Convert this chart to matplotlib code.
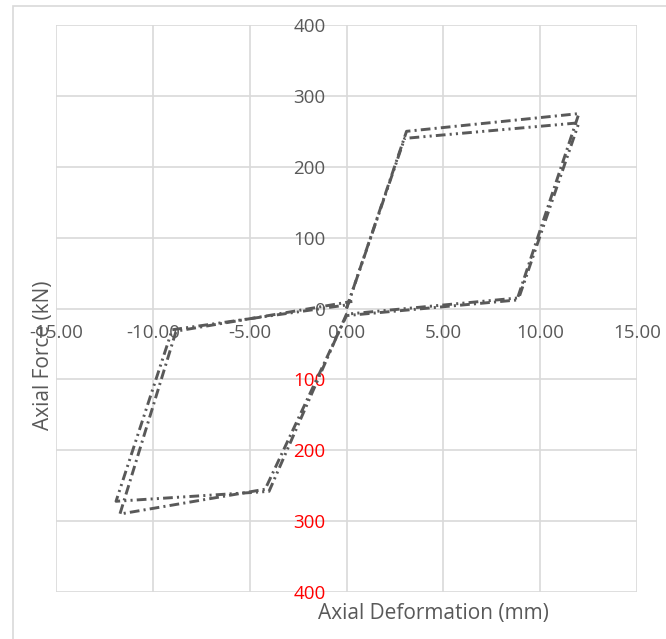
import matplotlib
matplotlib.use("Agg")
import matplotlib.pyplot as plt
from matplotlib.patches import Rectangle

# Data
s1_x = [0.0, 3.0, 12.0, 8.9, 0.0, -4.0, -11.9, -9.0, 0.0]
s1_y = [0, 240, 262, 15, -8, -258, -272, -30, 5]
s2_x = [0.0, 3.1, 12.0, 8.8, 0.0, -4.2, -11.7, -8.8, 0.3]
s2_y = [0, 250, 275, 12, -10, -255, -290, -32, 10]

x_ticks = [-15, -10, -5, 0, 5, 10, 15]
x_tick_labels = ["-15.00", "-10.00", "-5.00", "0.00", "5.00", "10.00", "15.00"]
y_ticks = [-400, -300, -200, -100, 0, 100, 200, 300, 400]
y_tick_labels = ["400", "300", "200", "100", "0", "100", "200", "300", "400"]

x_label = "Axial Deformation (mm)"
y_label = "Axial Force (kN)"

plt.rcParams['font.family'] = ['Open Sans', 'DejaVu Sans']
plt.rcParams['lines.scale_dashes'] = False

W, H = 666, 639
fig = plt.figure(figsize=(W / 100, H / 100), dpi=100)

# outer chart frame
fig.patches.append(Rectangle((13 / W, -0.1), 1.2, 1 - 6 / H + 0.1, transform=fig.transFigure,
                             fill=False, edgecolor="#d9d9d9", linewidth=1.2))

ax = fig.add_axes([56 / W, 1 - 592 / H, (637 - 56) / W, (592 - 25) / H])
ax.set_xlim(-15, 15)
ax.set_ylim(-400, 400)

grid_c = "#d9d9d9"
ax.set_xticks(x_ticks)
ax.set_yticks(y_ticks)
ax.grid(True, color=grid_c, linewidth=1.2)
ax.set_axisbelow(True)
for s in ax.spines.values():
    s.set_visible(False)
ax.spines['left'].set_position(('data', 0))
ax.spines['bottom'].set_position(('data', 0))

ax.set_xticklabels(x_tick_labels)
ax.set_yticklabels(y_tick_labels)
ax.tick_params(axis='x', length=0, pad=11, labelsize=13.5, labelcolor="#595959")
ax.tick_params(axis='y', length=0, pad=15, labelsize=13.5, labelcolor="#595959")
for v, lab in zip(y_ticks, ax.get_yticklabels()):
    if v < 0:
        lab.set_color("#ff0000")

line_c = "#595959"
ax.plot(s1_x, s1_y, color=line_c, linewidth=2.1, dashes=(7, 3, 1.5, 3, 1.5, 3), zorder=3)
ax.plot(s2_x, s2_y, color=line_c, linewidth=2.1, dashes=(7, 3, 1.5, 3), zorder=3)

fig.text(433 / W, 1 - 613 / H, x_label, ha="center", va="center", fontsize=15, color="#595959")
fig.text(44 / W, 1 - 355 / H, y_label, ha="center", va="center", fontsize=15, color="#595959",
         rotation=90)

fig.savefig("out.png", dpi=100)
